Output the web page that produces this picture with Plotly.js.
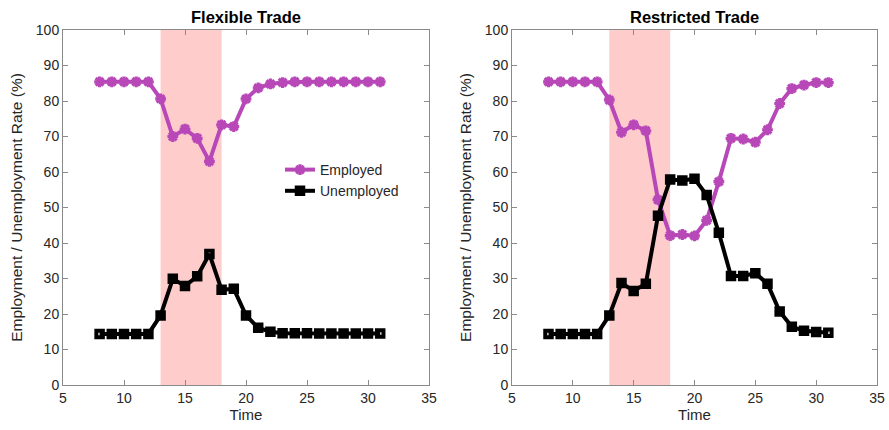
<!DOCTYPE html>
<html>
<head>
<meta charset="utf-8">
<script src="https://cdn.plot.ly/plotly-3.0.1.min.js"></script>
<style>html,body{margin:0;padding:0;background:#fff;}#chart{width:889px;height:430px;}</style>
</head>
<body>
<div id="chart"></div>
<script>
// Data
const time = [8,9,10,11,12,13,14,15,16,17,18,19,20,21,22,23,24,25,26,27,28,29,30,31];
const flexEmployed = [85.4,85.4,85.4,85.4,85.4,80.6,70,72.1,69.5,63,73.3,72.8,80.6,83.7,84.8,85.2,85.4,85.4,85.4,85.4,85.4,85.4,85.4,85.4];
const flexUnemployed = [14.4,14.4,14.4,14.4,14.4,19.6,29.9,27.9,30.6,36.9,26.8,27.1,19.6,16.1,15,14.6,14.6,14.6,14.5,14.5,14.5,14.5,14.5,14.5];
const restEmployed = [85.4,85.4,85.4,85.4,85.4,80.3,71.2,73.3,71.6,52.2,42.1,42.4,42,46.4,57.3,69.5,69.3,68.4,71.9,79.3,83.5,84.5,85.2,85.2];
const restUnemployed = [14.4,14.4,14.4,14.4,14.4,19.6,28.7,26.5,28.5,47.7,57.9,57.6,58.1,53.5,42.9,30.7,30.7,31.5,28.5,20.7,16.4,15.3,14.9,14.7];
const shockStart = 13, shockEnd = 18;
const panelTitles = ['Flexible Trade', 'Restricted Trade'];
const seriesNames = ['Employed', 'Unemployed'];

const magenta = '#B847B8';
const font = 'Liberation Sans, Arial, sans-serif';

function empTrace(y, xa, ya, show) {
  return {x: time, y: y, xaxis: xa, yaxis: ya, name: seriesNames[0], showlegend: show,
    mode: 'lines+markers', line: {color: magenta, width: 4},
    marker: {symbol: 'asterisk-open', size: 9, color: magenta, line: {color: magenta, width: 3.2}}};
}
function unTrace(y, xa, ya, show) {
  return {x: time, y: y, xaxis: xa, yaxis: ya, name: seriesNames[1], showlegend: show,
    mode: 'lines+markers', line: {color: '#000', width: 4},
    marker: {symbol: 'square-open', size: 6.5, color: '#000', line: {color: '#000', width: 4}}};
}

const data = [
  empTrace(flexEmployed, 'x', 'y', true),
  unTrace(flexUnemployed, 'x', 'y', true),
  empTrace(restEmployed, 'x2', 'y2', false),
  unTrace(restUnemployed, 'x2', 'y2', false)
];

function xax(domain, anchor) {
  return {domain: domain, anchor: anchor, range: [5, 35], tickvals: [5,10,15,20,25,30,35],
    ticks: 'inside', ticklen: 5, tickcolor: '#8a8a8a', showline: true, linecolor: '#8a8a8a', linewidth: 1,
    mirror: 'ticks', showgrid: false, zeroline: false,
    tickfont: {family: font, size: 14, color: '#262626'},
    title: {text: 'Time', font: {family: font, size: 15, color: '#262626'}, standoff: 4}};
}
function yax(domain, anchor) {
  return {domain: domain, anchor: anchor, range: [0, 100], tickvals: [0,10,20,30,40,50,60,70,80,90,100],
    ticks: 'inside', ticklen: 5, tickcolor: '#8a8a8a', showline: true, linecolor: '#8a8a8a', linewidth: 1,
    mirror: 'ticks', showgrid: false, zeroline: false,
    tickfont: {family: font, size: 14, color: '#262626'},
    title: {text: 'Employment / Unemployment Rate (%)', font: {family: font, size: 15.5, color: '#262626'}, standoff: 9}};
}

const yDom = [1 - 385/430, 1 - 30/430];
const layout = {
  width: 889, height: 430,
  margin: {l: 0, r: 0, t: 0, b: 0},
  paper_bgcolor: '#fff', plot_bgcolor: '#fff',
  showlegend: true,
  legend: {x: 280/889, y: 1 - 154/430, xanchor: 'left', yanchor: 'top', bgcolor: 'rgba(0,0,0,0)',
    font: {family: font, size: 14, color: '#262626'}, tracegroupgap: 0},
  xaxis: xax([63/889, 429/889], 'y'),
  yaxis: yax(yDom, 'x'),
  xaxis2: xax([512/889, 877/889], 'y2'),
  yaxis2: yax(yDom, 'x2'),
  shapes: [
    {type: 'rect', xref: 'x', yref: 'y', x0: shockStart, x1: shockEnd, y0: 0, y1: 100, fillcolor: '#FFCCCC', line: {width: 0}, layer: 'below'},
    {type: 'rect', xref: 'x2', yref: 'y2', x0: shockStart, x1: shockEnd, y0: 0, y1: 100, fillcolor: '#FFCCCC', line: {width: 0}, layer: 'below'}
  ],
  annotations: [
    {text: '<b>' + panelTitles[0] + '</b>', xref: 'paper', yref: 'paper', x: 246/889, y: 1 - 17/430, xanchor: 'center', yanchor: 'middle', showarrow: false, font: {family: font, size: 16.5, color: '#000'}},
    {text: '<b>' + panelTitles[1] + '</b>', xref: 'paper', yref: 'paper', x: 694/889, y: 1 - 17/430, xanchor: 'center', yanchor: 'middle', showarrow: false, font: {family: font, size: 16.5, color: '#000'}}
  ]
};

Plotly.newPlot('chart', data, layout, {displayModeBar: false, staticPlot: true});
</script>
</body>
</html>
